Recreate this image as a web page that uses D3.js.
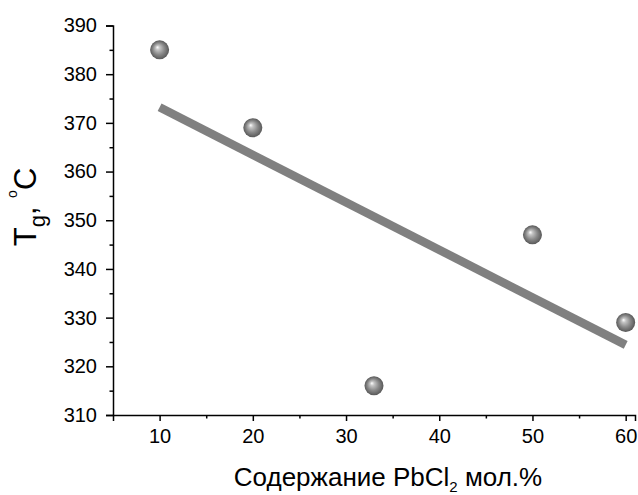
<!DOCTYPE html>
<html>
<head>
<meta charset="utf-8">
<script src="https://cdn.jsdelivr.net/npm/d3@7"></script>
<style>
  html, body { margin: 0; padding: 0; background: #fff; }
  svg { display: block; font-family: "Liberation Sans", Arial, sans-serif; }
</style>
</head>
<body>
<svg id="chart" width="638" height="495"></svg>
<script>
// Data
const pbcl2 = [10, 20, 33, 50, 60];
const tg = [385, 369, 316, 347, 329];
const fitX = [10, 60];
const fitY = [373.2, 324.4];
const xTicks = [10, 20, 30, 40, 50, 60];
const yTicks = [310, 320, 330, 340, 350, 360, 370, 380, 390];
const xMinor = [15, 25, 35, 45, 55];
const yMinor = [315, 325, 335, 345, 355, 365, 375, 385];

const svg = d3.select("#chart");
const mLeft = 113, mRight = 635, mTop = 25.5, mBottom = 415;

const x = d3.scaleLinear().domain([5, 61]).range([mLeft, mRight]);
const y = d3.scaleLinear().domain([310, 390]).range([mBottom, mTop]);

// Gradient for spheres
const defs = svg.append("defs");
const grad = defs.append("radialGradient")
  .attr("id", "sphere").attr("cx", "0.5").attr("cy", "0.5").attr("r", "0.5")
  .attr("fx", "0.38").attr("fy", "0.36");
grad.append("stop").attr("offset", "0").attr("stop-color", "#ffffff");
grad.append("stop").attr("offset", "0.22").attr("stop-color", "#c4c4c4");
grad.append("stop").attr("offset", "0.6").attr("stop-color", "#8a8a8a");
grad.append("stop").attr("offset", "1").attr("stop-color", "#585858");

// Fit line
svg.append("path")
  .datum(fitX.map((v, i) => [v, fitY[i]]))
  .attr("d", d3.line().x(d => x(d[0])).y(d => y(d[1])))
  .attr("stroke", "#808080").attr("stroke-width", 8.5).attr("fill", "none")
  .attr("stroke-linecap", "butt");

// Axes
const xAxis = svg.append("g").attr("transform", `translate(0,${mBottom})`)
  .call(d3.axisBottom(x).tickValues(xTicks).tickSize(6).tickPadding(8).tickFormat(d3.format("d")));
const xAxisMinor = svg.append("g").attr("transform", `translate(0,${mBottom})`)
  .call(d3.axisBottom(x).tickValues(xMinor).tickSize(3.5).tickFormat(""));
const yAxis = svg.append("g").attr("transform", `translate(${mLeft},0)`)
  .call(d3.axisLeft(y).tickValues(yTicks).tickSize(7).tickPadding(9).tickFormat(d3.format("d")));
const yAxisMinor = svg.append("g").attr("transform", `translate(${mLeft},0)`)
  .call(d3.axisLeft(y).tickValues(yMinor).tickSize(3.5).tickFormat(""));

[xAxis, xAxisMinor, yAxis, yAxisMinor].forEach(g => {
  g.select(".domain").attr("stroke", "#000").attr("stroke-width", 1.5);
  g.selectAll(".tick line").attr("stroke", "#000").attr("stroke-width", 1.5);
  g.selectAll("text").attr("font-size", 20).attr("fill", "#000")
    .attr("font-family", "'Liberation Sans', Arial, sans-serif");
});
xAxisMinor.select(".domain").remove();
yAxisMinor.select(".domain").remove();

// Points
svg.append("g").selectAll("circle")
  .data(pbcl2.map((v, i) => [v, tg[i]]))
  .join("circle")
  .attr("cx", d => x(d[0])).attr("cy", d => y(d[1]))
  .attr("r", 9.5).attr("fill", "url(#sphere)");

// X title
const xt = svg.append("text")
  .attr("x", 388).attr("y", 486).attr("text-anchor", "middle")
  .attr("font-size", 26).attr("fill", "#000");
xt.append("tspan").text("Содержание PbCl");
xt.append("tspan").attr("font-size", 15).attr("dy", 6).text("2");
xt.append("tspan").attr("dy", -6).text(" мол.%");

// Y title
const yt = svg.append("text")
  .attr("transform", "translate(36,207) rotate(-90)")
  .attr("text-anchor", "middle").attr("font-size", 31).attr("fill", "#000");
yt.append("tspan").text("T");
yt.append("tspan").attr("font-size", 22).attr("dy", 9).text("g");
yt.append("tspan").attr("dy", -9).text(", ");
yt.append("tspan").attr("font-size", 14).attr("dy", -19).text("o");
yt.append("tspan").attr("dy", 19).text("C");
</script>
</body>
</html>
